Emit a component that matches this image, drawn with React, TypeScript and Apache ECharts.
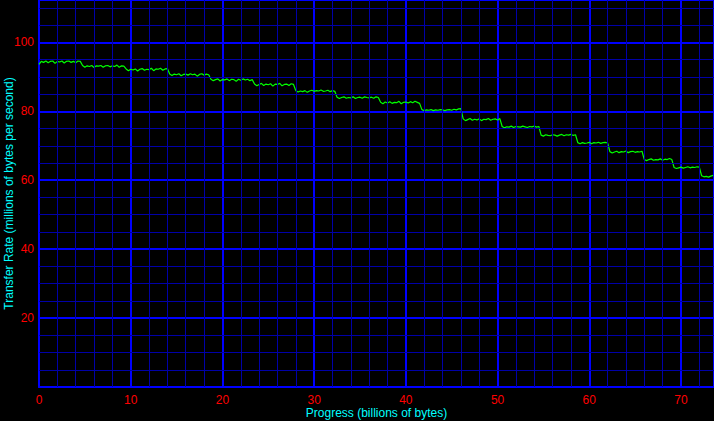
import React, { useEffect, useRef } from "react";
import * as echarts from "echarts";

// Start (billions of bytes) of each plateau; samples every 0.25 within a plateau
const segStart = [0, 4.75, 9.5, 14.25, 18.75, 23.5, 28.0, 32.5, 37.25, 41.75, 46.25, 50.5, 54.75, 58.75, 62.25, 66.0, 69.25, 72.25];
const sampleStep = 0.25;

// Transfer rate samples (millions of bytes per second), one list per plateau
const seg1 = [93.6, 94.5, 94.2, 94.6, 94.1, 94.5, 94.6, 93.9, 94.5, 94.3, 94.6, 94.0, 94.5, 94.6, 94.2, 94.5, 94.1, 94.6, 94.5];
const seg2 = [93.3, 92.8, 93.2, 93.0, 93.3, 92.7, 93.2, 93.1, 93.3, 92.8, 93.2, 93.3, 92.9, 93.2, 93.0, 93.4, 92.8, 93.2, 93.1];
const seg3 = [92.3, 91.8, 92.2, 92.0, 92.3, 91.7, 92.2, 92.4, 91.9, 92.2, 92.1, 92.5, 91.8, 92.3, 92.2, 92.5, 91.9, 92.3, 92.4];
const seg4 = [90.8, 90.4, 90.8, 90.6, 90.9, 90.3, 90.7, 90.8, 90.5, 90.9, 90.6, 90.8, 90.2, 90.7, 90.9, 90.5, 90.8, 90.6];
const seg5 = [89.3, 88.9, 89.2, 89.4, 88.8, 89.2, 89.1, 89.4, 88.9, 89.3, 89.2, 88.7, 89.3, 89.0, 89.4, 89.1, 89.3, 88.9, 89.2];
const seg6 = [87.9, 87.4, 87.8, 88.1, 87.5, 87.9, 87.7, 88.0, 87.3, 87.9, 87.8, 88.1, 87.4, 87.8, 87.9, 87.5, 88.0, 87.8];
const seg7 = [86.0, 85.6, 85.9, 85.7, 86.0, 85.5, 85.9, 86.1, 85.8, 86.0, 85.9, 86.2, 85.8, 85.9, 86.1, 85.7, 86.0, 85.8];
const seg8 = [84.1, 83.7, 84.0, 84.2, 83.8, 84.0, 83.9, 84.2, 83.7, 84.0, 84.1, 83.8, 84.2, 84.0, 83.9, 84.1, 83.8, 84.2, 84.0];
const seg9 = [82.6, 82.2, 82.7, 82.4, 82.8, 82.3, 82.6, 82.5, 82.9, 82.2, 82.6, 82.7, 82.4, 82.8, 82.5, 82.9, 82.6, 82.3];
const seg10 = [80.5, 80.2, 80.4, 80.3, 80.5, 80.2, 80.4, 80.3, 80.5, 80.4, 80.2, 80.4, 80.5, 80.3, 80.6, 80.4, 80.7, 80.8];
const seg11 = [77.8, 77.3, 77.6, 77.9, 77.4, 77.7, 77.5, 77.8, 77.3, 77.7, 77.6, 77.9, 77.4, 77.7, 77.8, 77.5, 77.9];
const seg12 = [75.6, 75.2, 75.5, 75.4, 75.7, 75.3, 75.6, 75.5, 75.4, 75.7, 75.5, 75.3, 75.6, 75.5, 75.7, 75.4, 75.6];
const seg13 = [73.1, 72.8, 73.2, 73.0, 72.9, 73.2, 73.1, 72.8, 73.1, 73.3, 72.9, 73.2, 73.1, 73.3, 73.0, 73.2];
const seg14 = [70.9, 70.6, 70.9, 70.7, 70.8, 71.0, 70.6, 70.9, 70.8, 71.0, 70.7, 70.9, 71.0, 70.8];
const seg15 = [68.3, 67.9, 68.2, 68.4, 68.0, 68.3, 68.2, 68.5, 68.0, 68.3, 68.4, 68.1, 68.3, 68.2, 68.4];
const seg16 = [66.0, 65.7, 66.0, 66.2, 65.8, 66.0, 65.9, 66.2, 65.8, 66.1, 66.0, 66.3, 66.0];
const seg17 = [63.7, 63.4, 63.6, 63.8, 63.5, 63.7, 63.9, 63.6, 63.8, 63.7, 63.9, 63.8];
const seg18 = [61.3, 61.0, 61.1, 60.9, 61.2, 61.4];

const segments = [seg1, seg2, seg3, seg4, seg5, seg6, seg7, seg8, seg9, seg10, seg11, seg12, seg13, seg14, seg15, seg16, seg17, seg18];

// Minor grid positions (major ones come from the axes)
const xMinorTicks = [2, 4, 6, 8, 12, 14, 16, 18, 22, 24, 26, 28, 32, 34, 36, 38, 42, 44, 46, 48, 52, 54, 56, 58, 62, 64, 66, 68, 72];
const yMinorTicks = [5, 10, 15, 25, 30, 35, 45, 50, 55, 65, 70, 75, 85, 90, 95, 105, 110];

const xMin = 0;
const xMax = 73.6;
const yMin = 0;
const yMax = 112.3;

const xName = "Progress (billions of bytes)";
const yName = "Transfer Rate (millions of bytes per second)";

const MINOR = "#0000a8";
const MAJOR = "#0000ff";
const FONT = "Liberation Sans";

export default function App() {
  const ref = useRef<HTMLDivElement>(null);
  useEffect(() => {
    document.body.style.margin = "0";
    document.body.style.background = "#000";
    const chart = echarts.init(ref.current!, undefined, { renderer: "svg" });
    const data: number[][] = [];
    segments.forEach((seg, s) => {
      seg.forEach((v, j) => data.push([segStart[s] + j * sampleStep, v]));
    });
    const minorLines = [
      ...xMinorTicks.map((v) => ({ xAxis: v })),
      ...yMinorTicks.map((v) => ({ yAxis: v })),
    ];
    chart.setOption({
      animation: false,
      backgroundColor: "#000000",
      grid: { left: 39, right: 0, top: 0, bottom: 34, outerBoundsMode: "none" },
      xAxis: {
        type: "value", min: xMin, max: xMax, interval: 10,
        axisLine: { show: true, onZero: false, lineStyle: { color: MAJOR, width: 2 } },
        axisTick: { show: false },
        axisLabel: { color: "#ff0000", fontFamily: FONT, fontSize: 12, margin: 7, showMaxLabel: false },
        splitLine: { show: true, lineStyle: { color: MAJOR, width: 2 } },
        name: xName, nameLocation: "middle", nameGap: 20, nameMoveOverlap: false,
        nameTextStyle: { color: "#00ffff", fontFamily: FONT, fontSize: 12, verticalAlign: "top" },
      },
      yAxis: {
        type: "value", min: yMin, max: yMax, interval: 20,
        axisLine: { show: true, onZero: false, lineStyle: { color: MAJOR, width: 2 } },
        axisTick: { show: false },
        axisLabel: {
          color: "#ff0000", fontFamily: FONT, fontSize: 12, margin: 5, showMaxLabel: false,
          formatter: (v: number) => (v === 0 || v > 100 ? "" : String(v)),
        },
        splitLine: { show: true, lineStyle: { color: MAJOR, width: 2 } },
        name: yName, nameLocation: "middle", nameGap: 24, nameRotate: 90, nameMoveOverlap: false,
        nameTextStyle: { color: "#00ffff", fontFamily: FONT, fontSize: 12 },
      },
      series: [
        {
          type: "line", data: [], z: 1, silent: true,
          markLine: {
            silent: true, symbol: "none", label: { show: false },
            lineStyle: { color: MINOR, width: 1, type: "solid" },
            emphasis: { disabled: true },
            data: minorLines,
          },
        },
        {
          type: "line", data, z: 3,
          showSymbol: false, symbol: "none",
          lineStyle: { color: "#00ff00", width: 1.2 },
        },
      ],
    });
    return () => chart.dispose();
  }, []);
  return <div ref={ref} style={{ width: 714, height: 421, background: "#000" }} />;
}
